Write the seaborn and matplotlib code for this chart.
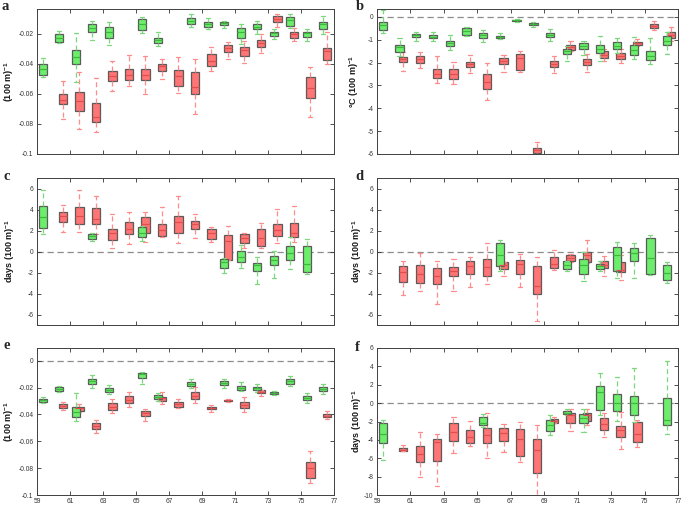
import numpy as np
import pandas as pd
import matplotlib
matplotlib.use("Agg")
import matplotlib.pyplot as plt
from matplotlib.ticker import FuncFormatter
import seaborn as sns

# ---------------- data: (year, whisker low, q1, median, q3, whisker high) ----------------
x_ticks = [59, 61, 63, 65, 67, 69, 71, 73, 75, 77]

a_green = [(59, -0.0485, -0.0472, -0.0434, -0.0400, -0.0360), (60, -0.0261, -0.0254, -0.0227, -0.0202, -0.0182),
           (61, -0.0524, -0.0400, -0.0355, -0.0306, -0.0198), (62, -0.0238, -0.0187, -0.0160, -0.0137, -0.0117),
           (63, -0.0276, -0.0227, -0.0190, -0.0153, -0.0124), (65, -0.0198, -0.0175, -0.0137, -0.0101, -0.0088),
           (66, -0.0281, -0.0258, -0.0240, -0.0227, -0.0187), (68, -0.0153, -0.0135, -0.0115, -0.0097, -0.0070),
           (69, -0.0171, -0.0153, -0.0137, -0.0124, -0.0097), (70, -0.0160, -0.0140, -0.0128, -0.0119, -0.0115),
           (71, -0.0265, -0.0231, -0.0190, -0.0164, -0.0137), (72, -0.0204, -0.0171, -0.0153, -0.0135, -0.0115),
           (73, -0.0236, -0.0216, -0.0198, -0.0187, -0.0171), (74, -0.0160, -0.0151, -0.0108, -0.0090, -0.0070),
           (75, -0.0250, -0.0220, -0.0198, -0.0187, -0.0171), (76, -0.0204, -0.0169, -0.0137, -0.0124, -0.0081)]
a_red = [(60, -0.0764, -0.0670, -0.0638, -0.0604, -0.0515), (61, -0.0831, -0.0715, -0.0647, -0.0587, -0.0452),
         (62, -0.0856, -0.0787, -0.0751, -0.0663, -0.0497), (63, -0.0580, -0.0517, -0.0483, -0.0445, -0.0380),
         (64, -0.0548, -0.0508, -0.0472, -0.0434, -0.0340), (65, -0.0598, -0.0508, -0.0472, -0.0434, -0.0350),
         (66, -0.0499, -0.0447, -0.0416, -0.0400, -0.0366), (67, -0.0593, -0.0546, -0.0481, -0.0438, -0.0357),
         (68, -0.0733, -0.0602, -0.0557, -0.0452, -0.0366), (69, -0.0449, -0.0413, -0.0384, -0.0337, -0.0288),
         (70, -0.0366, -0.0321, -0.0297, -0.0276, -0.0252), (71, -0.0396, -0.0348, -0.0310, -0.0288, -0.0249),
         (72, -0.0328, -0.0290, -0.0258, -0.0238, -0.0204), (73, -0.0153, -0.0119, -0.0099, -0.0081, -0.0070),
         (74, -0.0247, -0.0225, -0.0204, -0.0191, -0.0164), (75, -0.0757, -0.0625, -0.0562, -0.0488, -0.0418),
         (76, -0.0400, -0.0373, -0.0317, -0.0292, -0.0191)]

b_green = [(59, -0.71, -0.56, -0.35, -0.20, 0.29), (60, -1.72, -1.53, -1.33, -1.21, -0.92),
           (61, -1.07, -0.88, -0.81, -0.75, -0.64), (62, -1.07, -0.94, -0.87, -0.81, -0.66),
           (63, -1.43, -1.27, -1.14, -1.04, -0.81), (64, -0.82, -0.78, -0.61, -0.49, -0.45),
           (65, -1.08, -0.94, -0.79, -0.71, -0.56), (66, -0.97, -0.94, -0.88, -0.82, -0.71),
           (67, -0.20, -0.19, -0.14, -0.12, -0.10), (68, -0.42, -0.35, -0.30, -0.27, -0.23),
           (69, -1.07, -0.88, -0.77, -0.71, -0.51), (70, -1.94, -1.60, -1.50, -1.40, -1.29),
           (71, -1.65, -1.40, -1.26, -1.14, -1.05), (72, -1.94, -1.58, -1.39, -1.23, -0.82),
           (73, -1.58, -1.40, -1.26, -1.11, -0.92), (74, -1.86, -1.65, -1.43, -1.24, -0.88),
           (75, -2.08, -1.89, -1.72, -1.50, -0.92), (76, -1.60, -1.24, -1.03, -0.85, -0.64)]
b_red = [(60, -2.37, -1.98, -1.86, -1.75, -1.55), (61, -2.25, -2.01, -1.86, -1.72, -1.53),
         (62, -2.88, -2.69, -2.51, -2.27, -1.72), (63, -2.92, -2.73, -2.51, -2.27, -1.97),
         (64, -2.47, -2.18, -2.05, -1.97, -1.65), (65, -3.63, -3.14, -2.85, -2.51, -2.01),
         (66, -2.41, -2.08, -1.91, -1.79, -1.65), (67, -2.41, -2.30, -1.79, -1.62, -1.50),
         (68, -6.10, -5.97, -5.84, -5.72, -5.48), (69, -2.44, -2.18, -2.05, -1.94, -1.69),
         (70, -1.50, -1.46, -1.31, -1.21, -1.05), (71, -2.41, -2.12, -1.98, -1.84, -1.62),
         (72, -1.94, -1.79, -1.65, -1.50, -1.40), (73, -2.00, -1.86, -1.72, -1.58, -1.40),
         (74, -1.29, -1.24, -1.16, -1.10, -0.97), (75, -0.56, -0.48, -0.38, -0.30, -0.19),
         (76, -1.07, -0.92, -0.78, -0.66, -0.45)]

c_green = [(59, 1.63, 2.20, 3.32, 4.38, 5.88), (62, 0.99, 1.21, 1.47, 1.66, 1.73),
           (65, 0.99, 1.41, 1.73, 2.30, 2.43), (70, -2.00, -1.53, -1.00, -0.67, -0.61),
           (71, -1.53, -0.99, -0.51, 0.06, 0.60), (72, -3.07, -1.88, -1.31, -1.09, -0.51),
           (73, -2.49, -1.25, -0.83, -0.45, 0.03), (74, -1.63, -0.83, -0.10, 0.51, 1.40),
           (75, -2.17, -1.95, -1.21, 0.57, 1.18)]
c_red = [(60, 1.88, 2.78, 3.39, 3.80, 4.44), (61, 1.82, 2.62, 3.42, 4.22, 5.88),
         (62, 1.66, 2.62, 3.10, 4.15, 5.30), (63, 0.38, 1.09, 1.73, 2.11, 3.55),
         (64, 0.67, 1.63, 2.11, 2.78, 3.80), (65, 0.93, 1.79, 2.59, 3.26, 3.80),
         (66, 1.41, 1.47, 2.08, 2.62, 4.22), (67, 0.83, 1.79, 2.78, 3.42, 5.30),
         (68, 1.31, 2.14, 2.59, 2.94, 3.58), (69, 0.93, 1.18, 1.79, 2.11, 2.36),
         (70, -0.80, -0.77, 0.99, 1.57, 2.46), (71, 0.35, 0.83, 1.25, 1.63, 1.79),
         (72, 0.29, 0.51, 1.31, 2.14, 2.68), (73, 0.77, 1.47, 2.04, 2.59, 4.03),
         (74, 0.93, 1.41, 1.79, 2.68, 4.38)]

d_green = [(66, -1.84, -1.36, -0.30, 0.85, 1.11), (70, -1.90, -1.68, -1.27, -0.95, -0.89),
           (71, -2.85, -2.12, -1.27, -0.73, 0.00), (72, -1.90, -1.68, -1.42, -1.20, -0.95),
           (73, -2.53, -1.90, -0.30, 0.47, 0.95), (74, -2.53, -0.95, -0.16, 0.32, 0.85),
           (75, -2.22, -2.15, -0.63, 1.27, 1.58), (76, -3.00, -2.69, -2.06, -1.27, -1.01)]
d_red = [(60, -4.18, -2.91, -1.96, -1.42, -0.95), (61, -3.73, -3.00, -2.12, -1.27, -0.16),
         (62, -5.00, -3.07, -2.37, -1.58, -0.89), (63, -3.73, -2.37, -1.84, -1.49, -0.73),
         (64, -3.39, -2.12, -1.42, -0.95, -0.54), (65, -3.07, -2.31, -1.52, -0.70, 0.79),
         (66, -2.37, -1.68, -1.27, -1.01, -1.00), (67, -3.42, -2.12, -1.17, -0.85, -0.25),
         (68, -6.58, -4.05, -3.26, -1.42, -0.57), (69, -1.74, -1.61, -1.17, -0.57, 0.16),
         (70, -1.00, -0.95, -0.63, -0.38, -0.25), (71, -1.10, -1.04, -0.32, -0.09, 1.11),
         (72, -2.37, -1.58, -1.27, -0.95, -0.47), (73, -2.75, -1.96, -1.74, -1.04, -0.32)]

e_green = [(59, -0.0318, -0.0305, -0.0296, -0.0286, -0.0268), (60, -0.0236, -0.0224, -0.0209, -0.0195, -0.0187),
           (61, -0.0448, -0.0421, -0.0379, -0.0342, -0.0239), (62, -0.0202, -0.0177, -0.0153, -0.0138, -0.0108),
           (63, -0.0251, -0.0232, -0.0219, -0.0207, -0.0182), (65, -0.0177, -0.0126, -0.0103, -0.0089, -0.0087),
           (66, -0.0298, -0.0283, -0.0271, -0.0259, -0.0244), (68, -0.0202, -0.0190, -0.0175, -0.0160, -0.0135),
           (70, -0.0202, -0.0182, -0.0170, -0.0155, -0.0138), (71, -0.0227, -0.0217, -0.0202, -0.0187, -0.0158),
           (72, -0.0232, -0.0222, -0.0207, -0.0195, -0.0175), (73, -0.0259, -0.0251, -0.0244, -0.0234, -0.0229),
           (74, -0.0190, -0.0175, -0.0150, -0.0133, -0.0118), (75, -0.0313, -0.0296, -0.0278, -0.0264, -0.0239),
           (76, -0.0251, -0.0227, -0.0212, -0.0197, -0.0172)]
e_red = [(60, -0.0365, -0.0350, -0.0335, -0.0323, -0.0308), (61, -0.0379, -0.0372, -0.0355, -0.0342, -0.0323),
         (62, -0.0539, -0.0510, -0.0483, -0.0461, -0.0441), (63, -0.0392, -0.0367, -0.0342, -0.0318, -0.0283),
         (64, -0.0342, -0.0318, -0.0293, -0.0264, -0.0232), (65, -0.0446, -0.0411, -0.0392, -0.0372, -0.0360),
         (66, -0.0320, -0.0300, -0.0281, -0.0268, -0.0232), (67, -0.0355, -0.0342, -0.0323, -0.0305, -0.0286),
         (68, -0.0318, -0.0288, -0.0264, -0.0232, -0.0197), (69, -0.0379, -0.0360, -0.0350, -0.0342, -0.0330),
         (70, -0.0305, -0.0300, -0.0296, -0.0293, -0.0288), (71, -0.0379, -0.0355, -0.0330, -0.0310, -0.0273),
         (72, -0.0261, -0.0241, -0.0232, -0.0222, -0.0217), (75, -0.0909, -0.0877, -0.0798, -0.0754, -0.0670),
         (76, -0.0434, -0.0421, -0.0409, -0.0397, -0.0372)]

f_green = [(59, -6.15, -4.32, -3.41, -2.12, -1.87), (65, -2.60, -2.42, -2.12, -1.50, -1.14),
           (69, -3.44, -3.08, -2.34, -1.79, -1.32), (70, -1.30, -1.21, -1.03, -0.88, -0.66),
           (71, -3.15, -2.16, -1.61, -1.21, -0.59), (72, -1.32, -0.77, 1.17, 1.90, 3.26),
           (73, -1.98, -0.88, -0.04, 1.03, 2.89), (74, -2.00, -1.32, -0.04, 0.73, 3.81),
           (76, -3.33, -2.34, -1.87, 0.59, 4.62)]
f_red = [(60, -5.24, -5.22, -5.05, -4.91, -4.54), (61, -7.99, -6.37, -5.53, -4.62, -3.15),
         (62, -9.01, -6.26, -4.25, -3.88, -3.33), (63, -5.42, -4.07, -3.15, -2.12, -1.50),
         (64, -4.62, -4.32, -3.70, -2.89, -1.90), (65, -6.00, -4.36, -3.52, -2.67, -1.06),
         (66, -5.35, -4.07, -3.26, -2.67, -2.23), (67, -6.37, -5.79, -3.88, -2.82, -2.05),
         (68, -10.5, -7.62, -5.09, -3.88, -2.42), (69, -2.20, -2.12, -1.94, -1.76, -1.50),
         (70, -3.04, -2.12, -1.32, -1.06, -0.66), (71, -2.42, -1.90, -1.32, -1.03, -0.59),
         (72, -3.70, -2.89, -2.23, -1.61, -1.03), (73, -4.98, -3.70, -2.89, -2.53, -0.95),
         (74, -4.80, -4.18, -3.33, -2.09, -1.87)]

y_labels = {"a": "(100 m)$^{-1}$", "b": "°C (100 m)$^{-1}$", "c": "days (100 m)$^{-1}$",
            "d": "days (100 m)$^{-1}$", "e": "(100 m)$^{-1}$", "f": "days (100 m)$^{-1}$"}
y_ticks = {"a": [-0.1, -0.08, -0.06, -0.04, -0.02], "b": [-6, -5, -4, -3, -2, -1, 0],
           "c": [-6, -4, -2, 0, 2, 4, 6], "d": [-6, -4, -2, 0, 2, 4, 6],
           "e": [-0.1, -0.08, -0.06, -0.04, -0.02, 0], "f": [-10, -8, -6, -4, -2, 0, 2, 4, 6]}
y_lims = {"a": (-0.1, -0.0035), "b": (-6, 0.35), "c": (-7, 7), "d": (-7, 7),
          "e": (-0.1, 0.0094), "f": (-10, 6)}
zero_line = {"a": False, "b": True, "c": True, "d": True, "e": True, "f": True}
groups = {"a": (a_green, a_red), "b": (b_green, b_red), "c": (c_green, c_red),
          "d": (d_green, d_red), "e": (e_green, e_red), "f": (f_green, f_red)}

# ---------------- style ----------------
sns.set_style("ticks")
plt.rcParams["font.family"] = ["Liberation Sans", "DejaVu Sans"]
plt.rcParams["axes.unicode_minus"] = False
plt.rcParams["mathtext.default"] = "regular"

GREEN_FILL, GREEN_LINE, GREEN_MED = "#6CEE6C", "#7CD87C", "#3DB83D"
RED_FILL, RED_LINE, RED_MED = "#FF7474", "#FF8C8C", "#E04F4F"
EDGE = "#5A5A5A"
OFF_GREEN, OFF_RED = 0.35, 0.57

W, H = 683, 507
fig = plt.figure(figsize=(W / 100, H / 100), dpi=100)
boxes = {"a": (37, 9, 334, 154), "b": (377, 9, 678, 154),
         "c": (37, 178, 334, 325), "d": (377, 178, 678, 325),
         "e": (37, 348, 334, 495), "f": (377, 348, 678, 495)}
letters = {"a": (2, 10), "b": (356, 10), "c": (3, 180), "d": (355, 180), "e": (3, 349), "f": (355, 351)}
# pixel offset of the y-label's right edge from the left spine
label_off = {"a": -21, "b": -16, "c": -20, "d": -13, "e": -21, "f": -13}


def draw_group(ax, stats, offset, fill, line, med):
    rows = []
    for yr, lo, q1, md, q3, hi in stats:
        for v in (lo, q1, md, q3, hi):
            rows.append({"x": round(yr + offset, 2), "v": v})
    df = pd.DataFrame(rows)
    xs = np.unique(df["x"])
    nw = np.min(np.diff(xs)) if len(xs) > 1 else 1.0
    sns.boxplot(data=df, x="x", y="v", native_scale=True, whis=(0, 100), width=0.5 / nw,
                color=fill, saturation=1, linecolor=EDGE, linewidth=0.9, showfliers=False,
                whiskerprops=dict(color=line, linestyle=(0, (4, 2.5)), linewidth=0.9),
                capprops=dict(color=line, linewidth=0.9),
                medianprops=dict(color=med, linewidth=0.9),
                ax=ax)


for key, (l, t, r, b) in boxes.items():
    ax = fig.add_axes([l / W, 1 - b / H, (r - l) / W, (b - t) / H])
    green, red = groups[key]
    if zero_line[key]:
        ax.axhline(0, color="#8C8C8C", linestyle=(0, (5, 3)), linewidth=0.9, zorder=0.5)
    draw_group(ax, red, OFF_RED, RED_FILL, RED_LINE, RED_MED)
    draw_group(ax, green, OFF_GREEN, GREEN_FILL, GREEN_LINE, GREEN_MED)
    ax.set_xlim(59, 77)
    ax.set_xticks(x_ticks)
    ax.set_ylim(*y_lims[key])
    ax.set_yticks(y_ticks[key])
    ax.yaxis.set_major_formatter(FuncFormatter(lambda v, p: f"{v:g}" if abs(v) > 1e-12 else "0"))
    ax.xaxis.set_major_formatter(FuncFormatter(lambda v, p: f"{v:g}"))
    ax.tick_params(direction="in", length=3, width=0.6, top=True, right=True,
                   labelsize=4.8, colors="#333333", pad=2.5)
    if key not in ("e", "f"):
        ax.tick_params(labelbottom=False)
    ax.set_xlabel("")
    ax.set_ylabel(y_labels[key], fontsize=6.5, fontweight="bold", color="#1a1a1a")
    ax.yaxis.set_label_coords(label_off[key] / (r - l), 0.5)
    for s in ax.spines.values():
        s.set_visible(True)
        s.set_linewidth(0.7)
        s.set_color("#404040")
    lx, ly = letters[key]
    fig.text(lx / W, 1 - ly / H, key, fontfamily=["Liberation Serif", "DejaVu Serif"],
             fontweight="bold", fontsize=10.5, va="baseline", ha="left")

fig.savefig("out.png", dpi=100)
